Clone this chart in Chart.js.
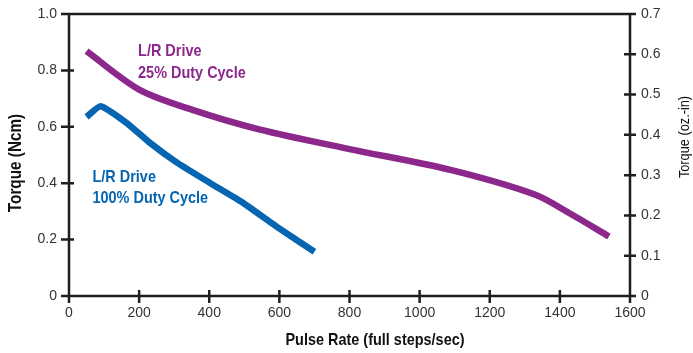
<!DOCTYPE html>
<html>
<head>
<meta charset="utf-8">
<script src="https://cdn.jsdelivr.net/npm/chart.js@4/dist/chart.umd.min.js"></script>
<style>
    html, body { margin: 0; padding: 0; background: #fff; }
    #wrap { width: 693px; height: 353px; }
</style>
</head>
<body>
<div id="wrap"><canvas id="torqueChart"></canvas></div>
<script>
// data
const rate100 = [50, 90, 164, 231, 307, 402, 497, 592, 700];
const torque100 = [0.635, 0.673, 0.614, 0.543, 0.474, 0.401, 0.330, 0.246, 0.157];

const rate25 = [50, 200, 350, 545, 800, 1085, 1330, 1435, 1540];
const torque25 = [0.868, 0.732, 0.661, 0.590, 0.521, 0.448, 0.359, 0.288, 0.211];

// tick labels
const xTicks = ['0', '200', '400', '600', '800', '1000', '1200', '1400', '1600'];
const ncmTicks = ['0', '0.2', '0.4', '0.6', '0.8', '1.0'];
const ozinTicks = ['0', '0.1', '0.2', '0.3', '0.4', '0.5', '0.6', '0.7'];

const label25 = ['L/R Drive', '25% Duty Cycle'];
const label100 = ['L/R Drive', '100% Duty Cycle'];

const PURPLE = '#8c278b';
const BLUE = '#0565b1';
const AXIS = '#1e1e1e';
const SANS = "'Liberation Sans', Arial, sans-serif";
const SQUEEZE = 0.85; // no condensed face installed, so squeeze by hand

function toPoints(xs, ys) {
    return xs.map((x, i) => ({ x: x, y: ys[i] }));
}

// text drawn narrower, like Helvetica Condensed
function narrowText(ctx, text, x, y, rot) {
    ctx.save();
    ctx.translate(x, y);
    if (rot) ctx.rotate(rot);
    ctx.scale(SQUEEZE, 1);
    ctx.fillText(text, 0, 0);
    ctx.restore();
}

// frame, crossing tick marks, axis titles and curve labels
const decorPlugin = {
    id: 'decor',
    afterDraw(chart) {
        const ctx = chart.ctx;
        const a = chart.chartArea;
        const sx = chart.scales.x, sy = chart.scales.y, sy2 = chart.scales.y2;

        ctx.save();
        ctx.strokeStyle = AXIS;
        ctx.lineWidth = 2.5;
        ctx.beginPath();
        ctx.moveTo(a.left, a.top);
        ctx.lineTo(a.right, a.top);
        ctx.moveTo(a.left, a.top - 1);
        ctx.lineTo(a.left, a.bottom + 1);
        ctx.moveTo(a.left - 1, a.bottom);
        ctx.lineTo(a.right + 1, a.bottom);
        ctx.moveTo(a.right, a.top - 1);
        ctx.lineTo(a.right, a.bottom + 1);

        sx.ticks.forEach((t, i) => {
            const px = sx.getPixelForTick(i);
            ctx.moveTo(px, a.bottom - 6);
            ctx.lineTo(px, a.bottom + 7);
        });
        sy.ticks.forEach((t, i) => {
            const py = sy.getPixelForTick(i);
            ctx.moveTo(a.left - 8, py);
            ctx.lineTo(a.left + 5, py);
        });
        sy2.ticks.forEach((t, i) => {
            const py = sy2.getPixelForTick(i);
            ctx.moveTo(a.right - 6, py);
            ctx.lineTo(a.right + 6, py);
        });
        ctx.stroke();

        // axis titles
        ctx.fillStyle = '#111';
        ctx.textAlign = 'center';
        ctx.textBaseline = 'alphabetic';
        ctx.font = 'bold 17px ' + SANS;
        narrowText(ctx, 'Pulse Rate (full steps/sec)', 375, 345);
        ctx.font = 'bold 18px ' + SANS;
        narrowText(ctx, 'Torque (Ncm)', 21, 163, -Math.PI / 2);
        ctx.font = '15px ' + SANS;
        narrowText(ctx, 'Torque (oz.-in)', 689, 137, -Math.PI / 2);

        // curve labels
        ctx.textAlign = 'left';
        ctx.font = 'bold 17px ' + SANS;
        ctx.fillStyle = PURPLE;
        label25.forEach((s, i) => {
            narrowText(ctx, s, sx.getPixelForValue(197), sy.getPixelForValue(0.851) + i * 22.3);
        });
        ctx.fillStyle = BLUE;
        label100.forEach((s, i) => {
            narrowText(ctx, s, sx.getPixelForValue(67), sy.getPixelForValue(0.406) + i * 21.3);
        });
        ctx.restore();
    }
};

const tickFont = { family: SANS, size: 14 };

new Chart(document.getElementById('torqueChart'), {
    type: 'line',
    data: {
        datasets: [
            {
                label: '25% Duty Cycle',
                data: toPoints(rate25, torque25),
                borderColor: PURPLE,
                borderWidth: 6.5,
                borderCapStyle: 'butt',
                borderJoinStyle: 'round',
                tension: 0.3,
                pointRadius: 0,
                fill: false
            },
            {
                label: '100% Duty Cycle',
                data: toPoints(rate100, torque100),
                borderColor: BLUE,
                borderWidth: 6.5,
                borderCapStyle: 'butt',
                borderJoinStyle: 'round',
                tension: 0.15,
                pointRadius: 0,
                fill: false
            }
        ]
    },
    options: {
        responsive: true,
        maintainAspectRatio: false,
        animation: false,
        layout: { padding: { top: 14, left: 0, right: 0, bottom: 0 } },
        plugins: {
            legend: { display: false },
            tooltip: { enabled: false }
        },
        scales: {
            x: {
                type: 'linear',
                min: 0,
                max: 1600,
                grid: { display: false },
                border: { display: false },
                ticks: {
                    stepSize: 200,
                    padding: 1,
                    color: '#333',
                    font: tickFont,
                    maxRotation: 0,
                    callback: (v, i) => xTicks[i]
                },
                afterFit: (s) => { s.height = 57; }
            },
            y: {
                position: 'left',
                min: 0,
                max: 1,
                grid: { display: false },
                border: { display: false },
                ticks: {
                    stepSize: 0.2,
                    padding: 4,
                    color: '#333',
                    font: tickFont,
                    callback: (v, i) => ncmTicks[i]
                },
                afterFit: (s) => { s.width = 69; }
            },
            y2: {
                position: 'right',
                min: 0,
                max: 0.7,
                grid: { display: false },
                border: { display: false },
                ticks: {
                    stepSize: 0.1,
                    padding: 3,
                    color: '#333',
                    font: tickFont,
                    callback: (v, i) => ozinTicks[i]
                },
                afterFit: (s) => { s.width = 63; }
            }
        }
    },
    plugins: [decorPlugin]
});
</script>
</body>
</html>
